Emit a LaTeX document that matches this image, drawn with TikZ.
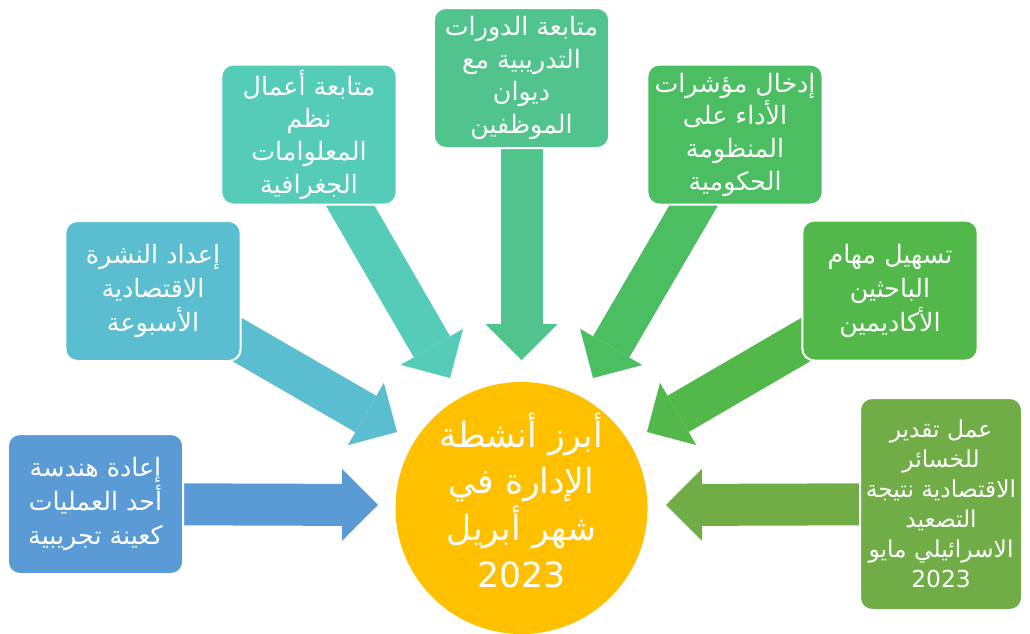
\documentclass[tikz,border=0pt]{standalone}
\usepackage{fontspec}
\TeXXeTstate=1
\newfontfamily\arabicfont[Script=Arabic]{DejaVu Sans}
\usetikzlibrary{arrows.meta}
\pgfdeclarelayer{bg}
\pgfsetlayers{bg,main}
\definecolor{cA}{HTML}{5B9BD5}
\definecolor{cB}{HTML}{5ABDD0}
\definecolor{cC}{HTML}{55CCB8}
\definecolor{cD}{HTML}{50C48C}
\definecolor{cE}{HTML}{4BBE62}
\definecolor{cF}{HTML}{52B84A}
\definecolor{cG}{HTML}{70AD47}
\definecolor{cY}{HTML}{FFC000}
\newcommand\artxt[1]{\beginR #1\endR}
\begin{document}
\begin{tikzpicture}[x=0.75pt,y=-0.75pt,
  box/.style={draw=white, line width=1.5pt, rounded corners=9pt, text=white,
    align=center, font=\arabicfont\fontsize{19}{25.5}\selectfont,
    minimum width=131.5pt, minimum height=105pt, inner sep=0pt},
  fat/.style={line width=31.5pt, -{Triangle[length=27pt,width=54pt,line width=0pt 0 0]}}]
\useasboundingbox (0,0) rectangle (1030,633);
\node[box, fill=cA] (b1) at (95.5,504) {\artxt{إعادة هندسة}\\\artxt{أحد العمليات}\\\artxt{كعينة تجريبية}};
\node[box, fill=cB] (b2) at (153,291) {\artxt{إعداد النشرة}\\\artxt{الاقتصادية}\\\artxt{الأسبوعة}};
\node[box, fill=cC, font=\arabicfont\fontsize{19}{24.5}\selectfont] (b3) at (309,134.5) {\artxt{متابعة أعمال}\\\artxt{نظم}\\\artxt{المعلوامات}\\\artxt{الجغرافية}};
\node[box, fill=cD, font=\arabicfont\fontsize{19}{24.5}\selectfont] (b4) at (521.5,78) {\artxt{متابعة الدورات}\\\artxt{التدريبية مع}\\\artxt{ديوان}\\\artxt{الموظفين}};
\node[box, fill=cE, font=\arabicfont\fontsize{19}{24.5}\selectfont] (b5) at (735,134.5) {\artxt{إدخال مؤشرات}\\\artxt{الأداء على}\\\artxt{المنظومة}\\\artxt{الحكومية}};
\node[box, fill=cF] (b6) at (890,290.5) {\artxt{تسهيل مهام}\\\artxt{الباحثين}\\\artxt{الأكاديمين}};
\node[box, fill=cG, minimum width=121.5pt, minimum height=159pt, font=\arabicfont\fontsize{17.5}{22.5}\selectfont] (b7) at (941,504) {\artxt{عمل تقدير}\\\artxt{للخسائر}\\\artxt{الاقتصادية نتيجة}\\\artxt{التصعيد}\\\artxt{الاسرائيلي مايو}\\2023};
\node[circle, fill=cY, minimum size=189pt, inner sep=0pt, text depth=12pt, text=white, align=center, font=\arabicfont\fontsize{26}{35}\selectfont] (c) at (521.5,508) {\artxt{أبرز أنشطة}\\\artxt{الإدارة في}\\\artxt{شهر أبريل}\\2023};
\coordinate (t1) at (378,505);
\coordinate (t2) at (397,432);
\coordinate (t3) at (450,378);
\coordinate (t4) at (521.5,360);
\coordinate (t5) at (593,378);
\coordinate (t6) at (647,432);
\coordinate (t7) at (666,505);
\begin{pgfonlayer}{bg}
\draw[fat, cA] (b1.center) -- (t1);
\draw[fat, cB] (b2.center) -- (t2);
\draw[fat, cC] (b3.center) -- (t3);
\draw[fat, cD] (b4.center) -- (t4);
\draw[fat, cE] (b5.center) -- (t5);
\draw[fat, cF] (b6.center) -- (t6);
\draw[fat, cG] (b7.center) -- (t7);
\end{pgfonlayer}
\end{tikzpicture}
\end{document}
